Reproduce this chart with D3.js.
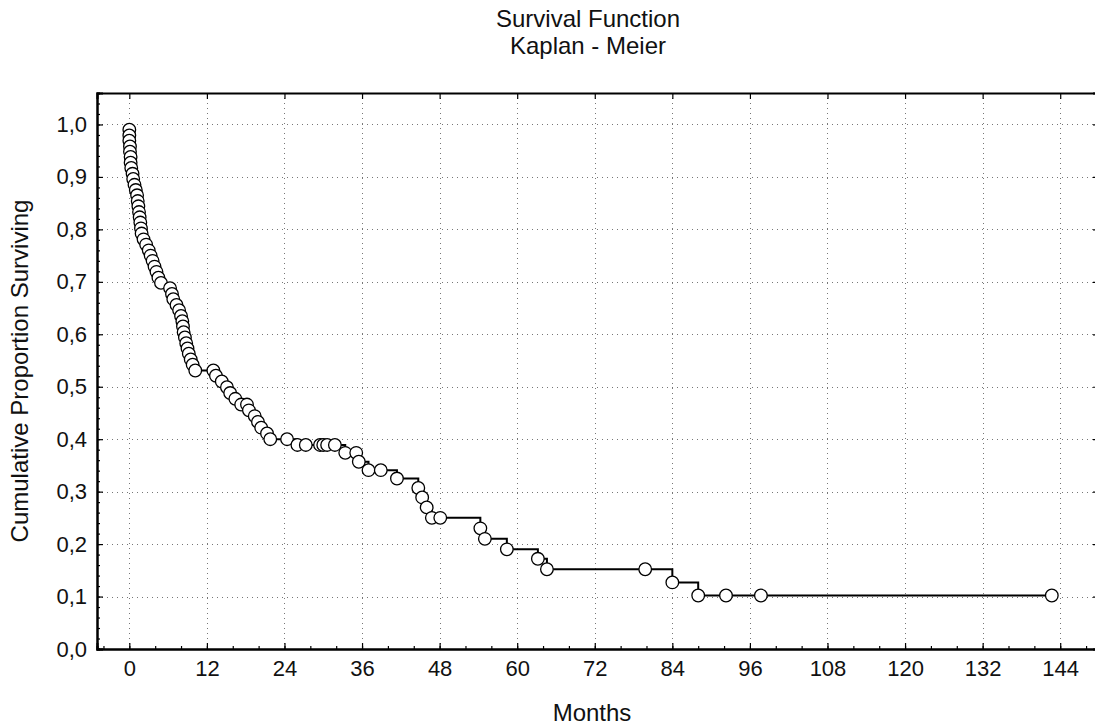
<!DOCTYPE html>
<html>
<head>
<meta charset="utf-8">
<script src="https://cdn.jsdelivr.net/npm/d3@7"></script>
<style>
  html, body { margin: 0; padding: 0; background: #fff; }
  svg text { font-family: "Liberation Sans", Arial, sans-serif; fill: #111; }
</style>
</head>
<body>
<svg id="chart" width="1095" height="726"></svg>
<script>
// Kaplan-Meier estimate: time (months) and cumulative proportion surviving at each observation
const months = [
  0.0, 0.0, 0.0, 0.1, 0.1, 0.2, 0.2, 0.3, 0.5, 0.6,
  0.8, 1.0, 1.2, 1.3, 1.4, 1.5, 1.6, 1.7, 1.8, 1.9,
  2.2, 2.6, 3.0, 3.3, 3.6, 3.9, 4.2, 4.5, 4.9, 6.3,
  6.6, 6.8, 7.3, 7.7, 8.0, 8.2, 8.3, 8.4, 8.6, 8.8,
  9.0, 9.2, 9.5, 9.8, 10.2, 13.0, 13.4, 14.3, 15.1, 15.6,
  16.4, 17.3, 18.2, 18.5, 19.4, 19.9, 20.4, 21.3, 21.8, 24.4,
  26.0, 27.3, 29.5, 30.0, 30.6, 31.8, 33.4, 35.1, 35.5, 37.0,
  38.9, 41.4, 44.7, 45.3, 46.0, 46.8, 48.1, 54.3, 55.0, 58.4,
  63.2, 64.6, 79.8, 84.0, 88.0, 92.3, 97.7, 142.7
];
const surviving = [
  0.990, 0.979, 0.969, 0.958, 0.948, 0.938, 0.927, 0.917, 0.906, 0.896,
  0.885, 0.875, 0.865, 0.854, 0.844, 0.833, 0.823, 0.813, 0.802, 0.792,
  0.781, 0.771, 0.760, 0.750, 0.740, 0.729, 0.719, 0.708, 0.698, 0.688,
  0.677, 0.667, 0.656, 0.646, 0.635, 0.625, 0.615, 0.604, 0.594, 0.583,
  0.573, 0.563, 0.552, 0.542, 0.531, 0.531, 0.521, 0.510, 0.499, 0.488,
  0.477, 0.466, 0.466, 0.455, 0.444, 0.433, 0.422, 0.411, 0.400, 0.400,
  0.389, 0.389, 0.389, 0.389, 0.389, 0.389, 0.374, 0.374, 0.357, 0.341,
  0.341, 0.325, 0.307, 0.289, 0.270, 0.250, 0.250, 0.230, 0.210, 0.190,
  0.172, 0.152, 0.152, 0.127, 0.102, 0.102, 0.102, 0.102
];

const xTicks = [0, 12, 24, 36, 48, 60, 72, 84, 96, 108, 120, 132, 144];
const yTicks = [0, 0.1, 0.2, 0.3, 0.4, 0.5, 0.6, 0.7, 0.8, 0.9, 1.0];
const xMinorTicks = d3.range(-4, 150, 4);
const yMinorTicks = d3.range(0, 1.061, 0.02);

const titleLines = ["Survival Function", "Kaplan - Meier"];
const xTitle = "Months";
const yTitle = "Cumulative Proportion Surviving";

const svg = d3.select("#chart");
const plot = { left: 97, top: 93, right: 1099, bottom: 649 };

const x = d3.scaleLinear().domain([-5, 150]).range([plot.left, plot.right]);
const y = d3.scaleLinear().domain([0, 1.06]).range([plot.bottom, plot.top]);
const fmt = d => d3.format(".1f")(d).replace(".", ",");

// dotted grid
const grid = svg.append("g").attr("stroke", "#777").attr("stroke-width", 1)
  .attr("stroke-dasharray", "1,4");
grid.selectAll(".gx").data(xTicks).join("line")
  .attr("x1", d => Math.round(x(d)) + 0.5).attr("x2", d => Math.round(x(d)) + 0.5)
  .attr("y1", plot.top).attr("y2", plot.bottom);
grid.selectAll(".gy").data(yTicks.filter(d => d > 0)).join("line")
  .attr("x1", plot.left).attr("x2", plot.right)
  .attr("y1", d => Math.round(y(d)) + 0.5).attr("y2", d => Math.round(y(d)) + 0.5);

// axes (ticks pointing inward)
const xAxis = d3.axisBottom(x).tickValues(xTicks).tickSize(-6).tickFormat(d3.format("d")).tickPadding(11);
const xAxisMinor = d3.axisBottom(x).tickValues(xMinorTicks).tickSize(-3).tickFormat("");
const yAxis = d3.axisLeft(y).tickValues(yTicks).tickSize(-6).tickFormat(fmt).tickPadding(10);
const yAxisMinor = d3.axisLeft(y).tickValues(yMinorTicks).tickSize(-3).tickFormat("");
const xAxisTop = d3.axisTop(x).tickValues(xTicks).tickSize(-6).tickFormat("");
const yAxisRight = d3.axisRight(y).tickValues(yTicks).tickSize(-6).tickFormat("");

function styleAxis(g) {
  g.select(".domain").attr("stroke", "#000").attr("stroke-width", 2);
  g.selectAll(".tick line").attr("stroke", "#000").attr("stroke-width", 1.2);
  g.selectAll(".tick text").attr("font-size", 22).attr("fill", "#111")
    .attr("font-family", "Liberation Sans, Arial, sans-serif");
}

svg.append("g").attr("transform", `translate(0,${plot.bottom})`).call(xAxisMinor).call(styleAxis);
svg.append("g").attr("transform", `translate(0,${plot.bottom})`).call(xAxis).call(styleAxis);
svg.append("g").attr("transform", `translate(${plot.left},0)`).call(yAxisMinor).call(styleAxis);
svg.append("g").attr("transform", `translate(${plot.left},0)`).call(yAxis).call(styleAxis);
svg.append("g").attr("transform", `translate(0,${plot.top})`).call(xAxisTop).call(styleAxis);
svg.append("g").attr("transform", `translate(${plot.right},0)`).call(yAxisRight).call(styleAxis);

// survival step function starting at full survival
const pts = [[0, 1.0]].concat(months.map((m, i) => [m, surviving[i]]));
const line = d3.line().x(d => x(d[0])).y(d => y(d[1])).curve(d3.curveStepAfter);
svg.append("path").datum(pts)
  .attr("d", line).attr("fill", "none").attr("stroke", "#000").attr("stroke-width", 2);

// observation markers
svg.append("g").selectAll("circle").data(months).join("circle")
  .attr("cx", d => x(d)).attr("cy", (d, i) => y(surviving[i])).attr("r", 6.3)
  .attr("fill", "#fff").attr("stroke", "#000").attr("stroke-width", 1.3);

// titles
svg.append("g").selectAll("text").data(titleLines).join("text")
  .attr("x", 588).attr("y", (d, i) => 27 + i * 27)
  .attr("text-anchor", "middle").attr("font-size", 24).text(d => d);
svg.append("text").attr("x", 592).attr("y", 721).attr("text-anchor", "middle")
  .attr("font-size", 24).text(xTitle);
svg.append("text").attr("transform", `translate(28,${(plot.top + plot.bottom) / 2}) rotate(-90)`)
  .attr("text-anchor", "middle").attr("font-size", 24).text(yTitle);
</script>
</body>
</html>
